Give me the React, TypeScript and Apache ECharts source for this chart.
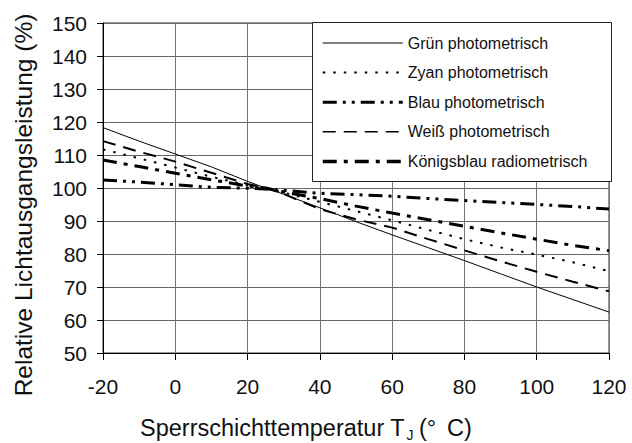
import React, { useEffect, useRef } from "react";
import * as echarts from "echarts";

const temps = [-20, -10, 0, 10, 20, 25, 30, 40, 50, 60, 70, 80, 90, 100, 110, 120];
const gruen = [118.3, 114.2, 110.3, 106.4, 102, 100, 98.1, 94, 89.8, 85.8, 81.9, 78, 74, 70, 66.2, 62.4];
const zyan = [111.7, 109, 106.2, 103.4, 100.8, 100, 98.6, 95.8, 93, 90.2, 87.3, 84.5, 82, 79.8, 77.5, 74.8];
const weiss = [114.2, 111, 108, 104.6, 101.2, 100, 98.2, 93.6, 90.5, 88, 84.5, 81.1, 77.8, 74.6, 71.6, 68.7];
const blau = [102.4, 101.8, 101, 100.2, 99.9, 99.7, 99.3, 98.4, 98, 97.5, 96.8, 96.2, 95.6, 95, 94.4, 93.6];
const koenigsblau = [108.5, 106.5, 104.5, 102.5, 100.6, 100, 98.8, 96.8, 94.5, 92.4, 90.4, 88.4, 86.4, 84.5, 82.6, 81];

const seriesNames = [
  "Grün photometrisch",
  "Zyan photometrisch",
  "Blau photometrisch",
  "Weiß photometrisch",
  "Königsblau radiometrisch",
];

const xTicks = { min: -20, max: 120, interval: 20 };
const yTicks = { min: 50, max: 150, interval: 10 };

const FONT = "Liberation Sans, Arial, sans-serif";

export default function App() {
  const ref = useRef<HTMLDivElement>(null);
  useEffect(() => {
    document.body.style.margin = "0";
    if (!ref.current) return;
    const chart = echarts.init(ref.current, undefined, { renderer: "svg" });
    const pairs = (vals: number[]) => temps.map((t, i) => [t, vals[i]]);
    const mk = (name: string, vals: number[], width: number, type: any) => ({
      name,
      type: "line",
      data: pairs(vals),
      symbol: "none",
      smooth: false,
      lineStyle: { color: "#000", width, type, cap: "butt" },
      itemStyle: { color: "#000" },
      z: 5,
    });
    const txt = (text: string, x: number, y: number, fontSize: number) => ({
      type: "text",
      x,
      y,
      style: {
        text,
        fontSize,
        fontFamily: FONT,
        fill: "#111",
        align: "left",
        verticalAlign: "middle",
      },
    });
    const legendWidths = [1, 2, 3, 1.5, 3.5];
    chart.setOption({
      animation: false,
      textStyle: { fontFamily: FONT },
      grid: {
        left: 103,
        right: 23,
        top: 23,
        bottom: 90,
        show: true,
        borderColor: "#333",
        borderWidth: 1,
        backgroundColor: "transparent",
      },
      xAxis: {
        type: "value",
        min: xTicks.min,
        max: xTicks.max,
        interval: xTicks.interval,
        axisLine: { show: true, onZero: false, lineStyle: { color: "#000", width: 1 } },
        axisTick: { show: true, length: 7, lineStyle: { color: "#000" } },
        axisLabel: { fontSize: 21, color: "#111", margin: 23, fontFamily: FONT },
        splitLine: { show: true, lineStyle: { color: "#777", width: 1 } },
      },
      yAxis: {
        type: "value",
        min: yTicks.min,
        max: yTicks.max,
        interval: yTicks.interval,
        axisLine: { show: true, onZero: false, lineStyle: { color: "#000", width: 1 } },
        axisTick: { show: true, length: 6, lineStyle: { color: "#000" } },
        axisLabel: { fontSize: 21, color: "#111", margin: 16, fontFamily: FONT },
        splitLine: { show: true, lineStyle: { color: "#666", width: 1 } },
      },
      legend: {
        orient: "vertical",
        left: 321,
        top: 35,
        padding: 0,
        itemWidth: 80,
        itemHeight: 14,
        itemGap: 13.6,
        z: 6,
        itemStyle: { opacity: 0 },
        textStyle: { fontSize: 16, color: "#111", fontFamily: FONT },
        data: seriesNames.map((name, i) => ({
          name,
          lineStyle: { width: legendWidths[i] },
        })),
      },
      graphic: [
        {
          type: "rect",
          z: 4,
          shape: { x: 312.5, y: 22.5, width: 299, height: 159 },
          style: { fill: "#fff", stroke: "#222", lineWidth: 1 },
        },
        {
          type: "text",
          x: 23.5,
          y: 205,
          rotation: Math.PI / 2,
          style: {
            text: "Relative Lichtausgangsleistung (%)",
            fontSize: 24.5,
            fontFamily: FONT,
            fill: "#111",
            align: "center",
            verticalAlign: "middle",
          },
        },
        txt("Sperrschichttemperatur T", 140, 428, 23.5),
        txt("J", 406.5, 434.5, 14),
        txt("(°", 419, 428, 23.5),
        txt("C)", 447, 428, 23.5),
      ],
      series: [
        mk(seriesNames[0], gruen, 1, "solid"),
        mk(seriesNames[1], zyan, 2, [2.5, 8]),
        mk(seriesNames[2], blau, 3, [14, 6, 3, 6, 3, 6]),
        mk(seriesNames[3], weiss, 2, [13, 8]),
        mk(seriesNames[4], koenigsblau, 3, [14, 7, 4, 7]),
      ],
    });
    return () => chart.dispose();
  }, []);
  return <div ref={ref} style={{ width: 632, height: 443 }} />;
}
